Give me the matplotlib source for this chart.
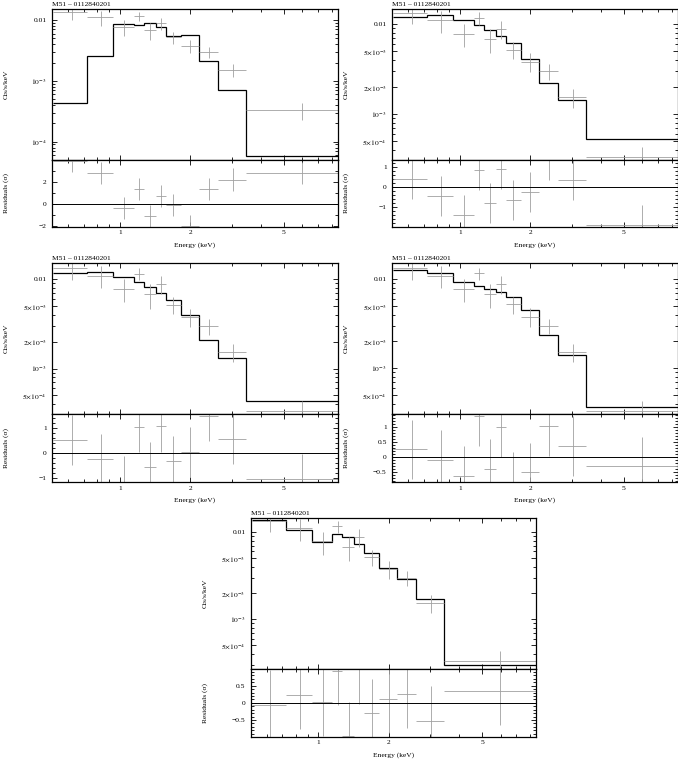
import matplotlib
matplotlib.use('Agg')
import matplotlib.pyplot as plt
import numpy as np
from matplotlib.ticker import FixedLocator, NullFormatter, LogLocator, MultipleLocator, FuncFormatter

plt.rcParams['font.family'] = ['Liberation Serif', 'DejaVu Serif']
plt.rcParams['mathtext.fontset'] = 'stix'
plt.rcParams['font.size'] = 5.4

title = 'M51 \u2013 0112840201'

# energy bins (keV) and the observed spectrum (same in every panel)
edges = [0.52, 0.725, 0.936, 1.148, 1.266, 1.425, 1.567, 1.815, 2.17, 2.61, 3.44, 8.5]
rate = [0.0133, 0.0110, 0.0078, 0.0116, 0.0068, 0.0088, 0.0052, 0.0038, 0.0030, 0.00153, 3.3e-4]
rate_err = [0.0034, 0.0030, 0.0023, 0.0019, 0.0021, 0.0020, 0.0011, 0.0009, 0.0006, 0.00036, 1.0e-4]

# folded models, one per fit
model_1 = [4.27e-4, 2.59e-3, 8.49e-3, 8.17e-3, 8.8e-3, 7.77e-3, 5.39e-3, 5.6e-3, 2.12e-3, 6.98e-4, 5.8e-5]
model_2 = [0.01186, 0.01248, 0.01098, 0.00966, 0.00850, 0.00730, 0.00610, 0.00412, 0.00221, 0.00143, 5.32e-4]
model_3 = [0.01168, 0.0122, 0.0105, 0.00925, 0.00813, 0.00696, 0.00581, 0.00394, 0.00207, 0.00132, 4.33e-4]
model_4 = [0.01274, 0.01188, 0.00925, 0.00841, 0.00772, 0.00714, 0.00638, 0.00448, 0.00236, 0.0014, 3.66e-4]
model_5 = [0.01377, 0.01064, 0.00773, 0.00957, 0.00875, 0.00733, 0.00577, 0.00386, 0.00288, 0.00172, 3.01e-4]

# residuals (sigma)
resid_1 = [3.85, 2.77, -0.37, 1.38, -1.08, 0.68, -0.15, -2.0, 1.38, 2.2, 2.77]
resid_2 = [0.42, -0.45, -1.41, 0.86, -0.79, 0.92, -0.62, -0.24, 1.35, 0.37, -1.9]
resid_3 = [0.53, -0.24, -1.13, 1.05, -0.57, 1.06, -0.33, 0.04, 1.48, 0.57, -1.03]
resid_4 = [0.26, -0.1, -0.62, 1.39, -0.38, 1.01, -0.82, -0.51, 1.05, 0.37, -0.31]
resid_5 = [-0.05, 0.24, 0.02, 0.94, -0.97, 0.98, -0.29, 0.12, 0.27, -0.52, 0.34]

models = [model_1, model_2, model_3, model_4, model_5]
resids = [resid_1, resid_2, resid_3, resid_4, resid_5]
spec_ylims = [(5.0e-5, 0.0150), (3.08e-4, 0.01456), (3.07e-4, 0.0151),
              (3.03e-4, 0.0151), (2.68e-4, 0.0144)]
res_ylims = [(-2.08, 3.97), (-1.97, 1.36), (-1.16, 1.54), (-0.84, 1.44), (-0.99, 0.99)]
res_major = [2, 1, 1, 0.5, 0.5]
res_minor = [1, 0.2, 0.2, 0.1, 0.1]

W, H = 678, 760
# (left px, top px, split px, bottom px, right px)
boxes = [
    (52.3, 9.3, 160.0, 226.7, 337.7),
    (392.3, 9.3, 160.0, 226.7, 677.7),
    (52.3, 263.3, 414.3, 482.3, 337.7),
    (392.3, 263.3, 414.3, 482.3, 677.7),
    (251.0, 518.3, 669.0, 736.7, 536.0),
]

edges_a = np.array(edges)
centers = (edges_a[:-1] + edges_a[1:]) / 2
xerr = [centers - edges_a[:-1], edges_a[1:] - centers]

data_col = '#a0a0a0'
res_fmt = FuncFormatter(lambda v, p: ('%g' % round(v, 3)).replace('-', '\u2212'))


def style_axis(ax):
    ax.set_xscale('log')
    ax.set_xlim(0.515, 8.5)
    ax.xaxis.set_major_locator(FixedLocator([1, 2, 5]))
    ax.xaxis.set_minor_locator(FixedLocator([0.6, 0.7, 0.8, 0.9, 3, 4, 6, 7, 8]))
    ax.xaxis.set_minor_formatter(NullFormatter())
    ax.tick_params(which='both', direction='in', top=True, right=True, width=0.6)
    ax.tick_params(which='major', length=3.5, pad=2.5)
    ax.tick_params(which='minor', length=2)
    for s in ax.spines.values():
        s.set_linewidth(0.9)


fig = plt.figure(figsize=(W / 100, H / 100), dpi=100)

for i in range(5):
    l, t, sp, b, r = boxes[i]
    ax = fig.add_axes([l / W, 1 - sp / H, (r - l) / W, (sp - t) / H])
    axr = fig.add_axes([l / W, 1 - b / H, (r - l) / W, (b - sp) / H])

    # spectrum
    style_axis(ax)
    ax.set_yscale('log')
    ax.errorbar(centers, rate, yerr=rate_err, xerr=xerr, fmt='none',
                ecolor=data_col, elinewidth=0.6, capsize=0)
    ax.stairs(models[i], edges, baseline=None, color='black', lw=0.9)
    ax.set_ylim(*spec_ylims[i])
    if i == 0:
        yt = [1e-4, 1e-3, 0.01]
        yl = [r'$10^{-4}$', r'$10^{-3}$', '0.01']
    else:
        yt = [5e-4, 1e-3, 2e-3, 5e-3, 0.01]
        yl = [r'$5{\times}10^{-4}$', r'$10^{-3}$', r'$2{\times}10^{-3}$',
              r'$5{\times}10^{-3}$', '0.01']
    ax.yaxis.set_major_locator(FixedLocator(yt))
    ax.set_yticklabels(yl)
    ax.yaxis.set_minor_locator(LogLocator(base=10, subs=np.arange(2, 10)))
    ax.yaxis.set_minor_formatter(NullFormatter())
    ax.tick_params(axis='y', which='major', pad=4)
    ax.tick_params(labelbottom=False)
    ax.set_ylabel('Cts/s/keV')
    ax.yaxis.set_label_coords(-0.152, 0.5)
    ax.annotate(title, xy=(0, 1), xycoords='axes fraction', xytext=(0, 1.5),
                textcoords='offset points', ha='left', va='bottom')

    # residuals
    style_axis(axr)
    axr.errorbar(centers, resids[i], yerr=1, xerr=xerr, fmt='none',
                 ecolor=data_col, elinewidth=0.6, capsize=0)
    axr.axhline(0, color='black', lw=0.7)
    axr.set_ylim(*res_ylims[i])
    axr.yaxis.set_major_locator(MultipleLocator(res_major[i]))
    axr.yaxis.set_minor_locator(MultipleLocator(res_minor[i]))
    axr.yaxis.set_major_formatter(res_fmt)
    axr.tick_params(axis='y', which='major', pad=4)
    axr.set_xticklabels(['1', '2', '5'])
    axr.set_ylabel('Residuals (\u03c3)')
    axr.yaxis.set_label_coords(-0.152, 0.5)
    axr.set_xlabel('Energy (keV)', labelpad=5)

fig.savefig('out.png', dpi=100)
